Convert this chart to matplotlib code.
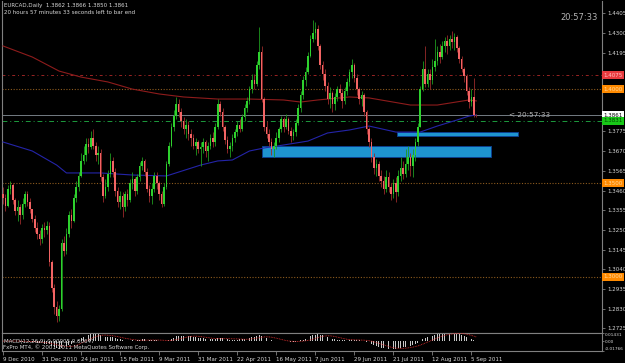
import numpy as np
import pandas as pd
import matplotlib
matplotlib.use("Agg")
import matplotlib.pyplot as plt
from matplotlib import font_manager
from matplotlib.patches import Rectangle

# EURCAD daily bars, 9 Dec 2010 .. 6 Sep 2011
close = [
    1.3420, 1.3380, 1.3470, 1.3490, 1.3410, 1.3350, 1.3370, 1.3330, 1.3390, 1.3440,
    1.3400, 1.3360, 1.3310, 1.3260, 1.3230, 1.3200, 1.3260, 1.3250, 1.3270, 1.3080,
    1.2940, 1.2840, 1.2790, 1.2830, 1.3180, 1.3140, 1.3230, 1.3330, 1.3300, 1.3420,
    1.3480, 1.3540, 1.3620, 1.3650, 1.3710, 1.3690, 1.3740, 1.3700, 1.3650, 1.3660,
    1.3530, 1.3430, 1.3480, 1.3550, 1.3620, 1.3560, 1.3460, 1.3400, 1.3430, 1.3370,
    1.3440, 1.3410, 1.3500, 1.3520, 1.3460, 1.3530, 1.3590, 1.3620, 1.3560, 1.3470,
    1.3430, 1.3470, 1.3540, 1.3500, 1.3440, 1.3390, 1.3480, 1.3600, 1.3700, 1.3800,
    1.3860, 1.3920, 1.3880, 1.3830, 1.3790, 1.3810, 1.3760, 1.3740, 1.3700, 1.3720,
    1.3680, 1.3690, 1.3720, 1.3670, 1.3700, 1.3740, 1.3720, 1.3800, 1.3920, 1.3880,
    1.3800, 1.3730, 1.3680, 1.3700, 1.3740, 1.3770, 1.3810, 1.3790, 1.3850, 1.3900,
    1.3940, 1.4000, 1.4050, 1.4030, 1.4130, 1.4200, 1.3950, 1.3800, 1.3760, 1.3720,
    1.3680, 1.3700, 1.3740, 1.3790, 1.3840, 1.3800, 1.3840, 1.3780, 1.3750, 1.3770,
    1.3820, 1.3900, 1.3970, 1.4050, 1.4090, 1.4180, 1.4270, 1.4300, 1.4320, 1.4230,
    1.4130, 1.4080, 1.4020, 1.3950, 1.3980, 1.3920, 1.3960, 1.4000, 1.3980, 1.3940,
    1.3990, 1.4040, 1.4090, 1.4130, 1.4060, 1.4000, 1.3950, 1.3970, 1.3880, 1.3790,
    1.3720, 1.3640, 1.3580, 1.3600, 1.3540, 1.3510, 1.3470, 1.3530, 1.3480, 1.3440,
    1.3500, 1.3450, 1.3540, 1.3580, 1.3550, 1.3600, 1.3640, 1.3590, 1.3650, 1.3720,
    1.3800, 1.4000, 1.4110, 1.4030, 1.4080, 1.4050, 1.4120, 1.4150, 1.4200, 1.4170,
    1.4230, 1.4260, 1.4230, 1.4270, 1.4250, 1.4280, 1.4220, 1.4160, 1.4110, 1.4070,
    1.3990, 1.3930, 1.3960, 1.3862, 1.3861,
]
high = [
    1.3480, 1.3440, 1.3490, 1.3510, 1.3500, 1.3420, 1.3410, 1.3390, 1.3420, 1.3460,
    1.3460, 1.3420, 1.3350, 1.3330, 1.3290, 1.3250, 1.3280, 1.3290, 1.3300, 1.3290,
    1.3090, 1.2960, 1.2870, 1.2850, 1.3200, 1.3220, 1.3260, 1.3350, 1.3360, 1.3440,
    1.3510, 1.3560, 1.3660, 1.3700, 1.3740, 1.3740, 1.3780, 1.3790, 1.3720, 1.3700,
    1.3680, 1.3550, 1.3520, 1.3570, 1.3660, 1.3640, 1.3580, 1.3480, 1.3460, 1.3450,
    1.3460, 1.3470, 1.3520, 1.3560, 1.3530, 1.3550, 1.3610, 1.3640, 1.3630, 1.3580,
    1.3490, 1.3500, 1.3560, 1.3560, 1.3510, 1.3460, 1.3500, 1.3620, 1.3720, 1.3820,
    1.3890, 1.3960, 1.3950, 1.3900, 1.3850, 1.3840, 1.3830, 1.3790, 1.3760, 1.3740,
    1.3730, 1.3720, 1.3740, 1.3730, 1.3720, 1.3760, 1.3770, 1.3820, 1.3950, 1.3940,
    1.3900, 1.3810, 1.3750, 1.3720, 1.3760, 1.3790, 1.3830, 1.3840, 1.3870, 1.3920,
    1.3960, 1.4020, 1.4080, 1.4080, 1.4150, 1.4330, 1.4230, 1.3960, 1.3830, 1.3790,
    1.3740, 1.3720, 1.3770, 1.3800, 1.3860, 1.3850, 1.3870, 1.3850, 1.3800, 1.3790,
    1.3840, 1.3920, 1.3990, 1.4070, 1.4120, 1.4200, 1.4290, 1.4370, 1.4360, 1.4340,
    1.4240, 1.4150, 1.4110, 1.4040, 1.4010, 1.3990, 1.3980, 1.4020, 1.4030, 1.4000,
    1.4010, 1.4060, 1.4110, 1.4160, 1.4140, 1.4080, 1.4010, 1.3990, 1.3980, 1.3890,
    1.3800, 1.3740, 1.3660, 1.3630, 1.3620, 1.3570, 1.3540, 1.3570, 1.3560, 1.3500,
    1.3520, 1.3530, 1.3570, 1.3640, 1.3620, 1.3680, 1.3700, 1.3660, 1.3680, 1.3740,
    1.3820, 1.4020, 1.4150, 1.4230, 1.4110, 1.4110, 1.4160, 1.4270, 1.4230, 1.4240,
    1.4260, 1.4280, 1.4290, 1.4290, 1.4310, 1.4300, 1.4290, 1.4230, 1.4180, 1.4120,
    1.4080, 1.4010, 1.4000, 1.4060, 1.3866,
]
low = [
    1.3390, 1.3350, 1.3370, 1.3440, 1.3390, 1.3330, 1.3300, 1.3280, 1.3310, 1.3370,
    1.3380, 1.3340, 1.3290, 1.3240, 1.3200, 1.3170, 1.3180, 1.3210, 1.3230, 1.3060,
    1.2920, 1.2800, 1.2760, 1.2765, 1.2820, 1.3110, 1.3120, 1.3210, 1.3260, 1.3290,
    1.3400, 1.3460, 1.3530, 1.3600, 1.3620, 1.3660, 1.3680, 1.3680, 1.3620, 1.3600,
    1.3510, 1.3400, 1.3420, 1.3460, 1.3530, 1.3530, 1.3430, 1.3370, 1.3360, 1.3320,
    1.3350, 1.3380, 1.3400, 1.3470, 1.3430, 1.3440, 1.3510, 1.3570, 1.3540, 1.3450,
    1.3400, 1.3390, 1.3450, 1.3470, 1.3410, 1.3370, 1.3380, 1.3470, 1.3590, 1.3690,
    1.3780, 1.3840, 1.3850, 1.3800, 1.3760, 1.3740, 1.3730, 1.3700, 1.3680, 1.3650,
    1.3660, 1.3590, 1.3660, 1.3640, 1.3620, 1.3680, 1.3690, 1.3700, 1.3790, 1.3860,
    1.3780, 1.3710, 1.3660, 1.3640, 1.3670, 1.3720, 1.3750, 1.3770, 1.3780, 1.3830,
    1.3880, 1.3920, 1.3980, 1.4000, 1.4020, 1.4110, 1.3930, 1.3780, 1.3740, 1.3700,
    1.3650, 1.3640, 1.3680, 1.3720, 1.3770, 1.3770, 1.3790, 1.3760, 1.3720, 1.3730,
    1.3750, 1.3810, 1.3880, 1.3950, 1.4020, 1.4080, 1.4170, 1.4250, 1.4270, 1.4210,
    1.4110, 1.4050, 1.3990, 1.3920, 1.3900, 1.3880, 1.3890, 1.3940, 1.3950, 1.3900,
    1.3920, 1.3970, 1.4020, 1.4060, 1.4040, 1.3970, 1.3920, 1.3910, 1.3860, 1.3760,
    1.3690, 1.3610, 1.3550, 1.3540, 1.3510, 1.3480, 1.3440, 1.3450, 1.3450, 1.3410,
    1.3420, 1.3400, 1.3430, 1.3510, 1.3520, 1.3530, 1.3570, 1.3540, 1.3530, 1.3620,
    1.3700, 1.3800, 1.3990, 1.4010, 1.4010, 1.4000, 1.4030, 1.4100, 1.4130, 1.4140,
    1.4160, 1.4200, 1.4190, 1.4210, 1.4220, 1.4210, 1.4200, 1.4140, 1.4090, 1.4040,
    1.3970, 1.3900, 1.3910, 1.3850, 1.3850,
]
first_open = 1.3440

# moving averages, sampled along the lines (bar index, price)
ma_red_bars = [0, 12, 23, 32, 43, 53, 64, 74, 88, 101, 115, 122, 129, 142, 150, 167, 178, 191, 194]
ma_red_vals = [1.4231, 1.4172, 1.4097, 1.4065, 1.4039, 1.4001, 1.3975, 1.3959, 1.3948, 1.3948,
               1.3943, 1.3932, 1.3943, 1.3959, 1.3954, 1.3916, 1.3916, 1.3943, 1.3938]
ma_blue_bars = [0, 12, 22, 26, 40, 53, 67, 81, 88, 94, 101, 107, 115, 125, 133, 142, 150, 161, 171, 178, 186, 191, 194]
ma_blue_vals = [1.3719, 1.3671, 1.3596, 1.3554, 1.3554, 1.3543, 1.3538, 1.3596, 1.3618, 1.3623,
                1.3671, 1.3687, 1.3703, 1.3724, 1.3767, 1.3783, 1.3804, 1.3772, 1.3772, 1.3804,
                1.3836, 1.3857, 1.3863]

# horizontal levels and drawn zones
level_red = 1.4075
level_orange = [1.4000, 1.3500, 1.3000]
bid = 1.3861
level_green = 1.3831
zones = [(106, 200, 1.3639, 1.3698), (161.5, 211, 1.3751, 1.3772)]

price_ticks = [1.4405, 1.4300, 1.4195, 1.4090, 1.3985, 1.3880, 1.3775, 1.3670, 1.3565,
               1.3460, 1.3355, 1.3250, 1.3145, 1.3040, 1.2935, 1.2830, 1.2725]
hidden_ticks = [1.4090, 1.3985, 1.3880]   # sit under the coloured price tags
date_bars = [0, 16, 32, 48, 64, 80, 96, 112, 128, 144, 160, 176, 192]
date_labels = ["9 Dec 2010", "31 Dec 2010", "24 Jan 2011", "15 Feb 2011", "9 Mar 2011",
               "31 Mar 2011", "22 Apr 2011", "16 May 2011", "7 Jun 2011", "29 Jun 2011",
               "21 Jul 2011", "12 Aug 2011", "5 Sep 2011"]
macd_ticks = [0.01431, 0.0, -0.01766]
macd_tick_labels = ["0.01431", "0.00", "-0.01766"]

names = {f.name for f in font_manager.fontManager.ttflist}
fam = "Liberation Sans Narrow" if "Liberation Sans Narrow" in names else "DejaVu Sans"
plt.rcParams['font.family'] = [fam, 'DejaVu Sans']
fs = 5.2 if fam != "DejaVu Sans" else 4.0

BG = "black"
GRAY = "#808080"
TXT = "#d8d8d8"

n = len(close)
x = np.arange(n)
o = np.array([first_open] + close[:-1])
c = np.array(close)
h = np.array(high)
l = np.array(low)
up = c >= o

fig = plt.figure(figsize=(6.25, 3.63), dpi=100, facecolor=BG)
ax = fig.add_axes([2 / 625, 30 / 363, 600 / 625, 332 / 363], facecolor=BG)
ax2 = fig.add_axes([2 / 625, 12 / 363, 600 / 625, 18 / 363], facecolor=BG)

# zones in the background
for x0, x1, y0, y1 in zones:
    ax.add_patch(Rectangle((x0, y0), x1 - x0, y1 - y0, fc="#1e94d0", ec="#0c3f8f", lw=0.7, zorder=1))

# level lines
ax.axhline(level_red, color="#9a2424", lw=0.7, ls=(0, (3, 3, 1, 3)), zorder=2)
for lv in level_orange:
    ax.axhline(lv, color="#8c5a1e", lw=0.8, ls=(0, (1, 1.5)), zorder=2)
ax.axhline(bid, color="#747c84", lw=0.7, zorder=2)
ax.axhline(level_green, color="#1c9a3c", lw=0.7, ls=(0, (5, 3, 1, 3)), zorder=2)

# moving averages
ax.plot(ma_red_bars, ma_red_vals, color="#8e1c1c", lw=0.8, zorder=3)
ax.plot(ma_blue_bars, ma_blue_vals, color="#2424a8", lw=0.8, zorder=3)

# candles
ax.vlines(x[up], l[up], h[up], color="#1f9a1f", lw=0.6, zorder=4)
ax.vlines(x[~up], l[~up], h[~up], color="#9a2a2a", lw=0.6, zorder=4)
body_lo = np.minimum(o, c)
body_h = np.maximum(np.abs(c - o), 0.0003)
ax.bar(x[up], body_h[up], bottom=body_lo[up], width=0.65, color="#2ed12e", zorder=5)
ax.bar(x[~up], body_h[~up], bottom=body_lo[~up], width=0.65, color="#f26464", zorder=5)

ax.set_xlim(-0.41, 245.5)
ax.set_ylim(1.27008, 1.44706)
ax.set_xticks([])
ax.yaxis.tick_right()
ax.set_yticks(price_ticks)
ax.set_yticklabels(["" if v in hidden_ticks else f"{v:.4f}" for v in price_ticks])
ax.tick_params(axis="y", colors=GRAY, labelcolor=TXT, labelsize=fs, length=2.5, width=0.6, pad=1)
for s in ["left", "right", "bottom"]:
    ax.spines[s].set_color(GRAY)
    ax.spines[s].set_linewidth(0.8)
ax.spines["top"].set_visible(False)

# price labels on the axis
tr = ax.get_yaxis_transform()
tags = [(level_red, "#e63a3e", "#ffc0c0"), (level_orange[0], "#ff8a00", "#ffd9a0"),
        (bid, "white", "black"), (level_green, "#18c818", "#004400"),
        (level_orange[1], "#ff8a00", "#ffd9a0"), (level_orange[2], "#ff8a00", "#ffd9a0")]
for val, bg, fg in tags:
    ax.text(1.003, val, f"{val:.4f}", transform=tr, ha="left", va="center", fontsize=fs,
            color=fg, zorder=10, clip_on=False,
            bbox=dict(boxstyle="square,pad=0.25", fc=bg, ec="none"))

ax.text(207.4, bid, "< 20:57:33", ha="left", va="center", fontsize=fs + 1.2, color="#b0b0b0", zorder=6)

# MACD sub-window
s = pd.Series(close)
macd = s.ewm(span=12, adjust=False).mean() - s.ewm(span=26, adjust=False).mean()
signal = macd.rolling(9, min_periods=1).mean()
ax2.bar(x, macd, width=0.35, color="#c8c8c8", zorder=2)
ax2.plot(x, signal, color="#e03030", lw=0.6, ls=(0, (1, 1)), zorder=3)
ax2.set_xlim(-0.41, 245.5)
ax2.set_ylim(-0.01766, 0.01431)
ax2.yaxis.tick_right()
ax2.set_yticks(macd_ticks)
ax2.set_yticklabels(macd_tick_labels)
lbls = ax2.get_yticklabels()
lbls[0].set_va("top")
lbls[2].set_va("bottom")
ax2.tick_params(axis="y", colors=GRAY, labelcolor=TXT, labelsize=fs - 0.9, length=1.5, width=0.6, pad=0.5)
ax2.set_xticks(date_bars)
ax2.set_xticklabels(date_labels, ha="left")
ax2.tick_params(axis="x", colors=GRAY, labelcolor=TXT, labelsize=fs, length=3, width=0.6, pad=1)
for s_ in ["left", "right", "bottom", "top"]:
    ax2.spines[s_].set_color(GRAY)
    ax2.spines[s_].set_linewidth(0.8)
ax2.text(0.004, 0.55, "MACD(12,26,9) 0.00005 0.00647", transform=ax2.transAxes, ha="left", va="center",
         fontsize=fs, color=TXT, zorder=5)
ax2.text(0.002, 0.2, "FxPro MT4, \u00a9 2001-2011 MetaQuotes Software Corp.", transform=ax2.transAxes,
         ha="left", va="center", fontsize=fs, color=TXT, zorder=5)

# header texts
fig.text(4 / 625, 1 - 6 / 363, "EURCAD,Daily  1.3862 1.3866 1.3850 1.3861", fontsize=fs,
         color=TXT, ha="left", va="center")
fig.text(4 / 625, 1 - 13 / 363, "20 hours 57 minutes 33 seconds left to bar end", fontsize=fs,
         color=TXT, ha="left", va="center")
fig.text(560 / 625, 1 - 18 / 363, "20:57:33", fontsize=fs + 2, color="#b4b4b4", ha="left", va="center")

fig.savefig("out.png", dpi=100, facecolor=BG)
